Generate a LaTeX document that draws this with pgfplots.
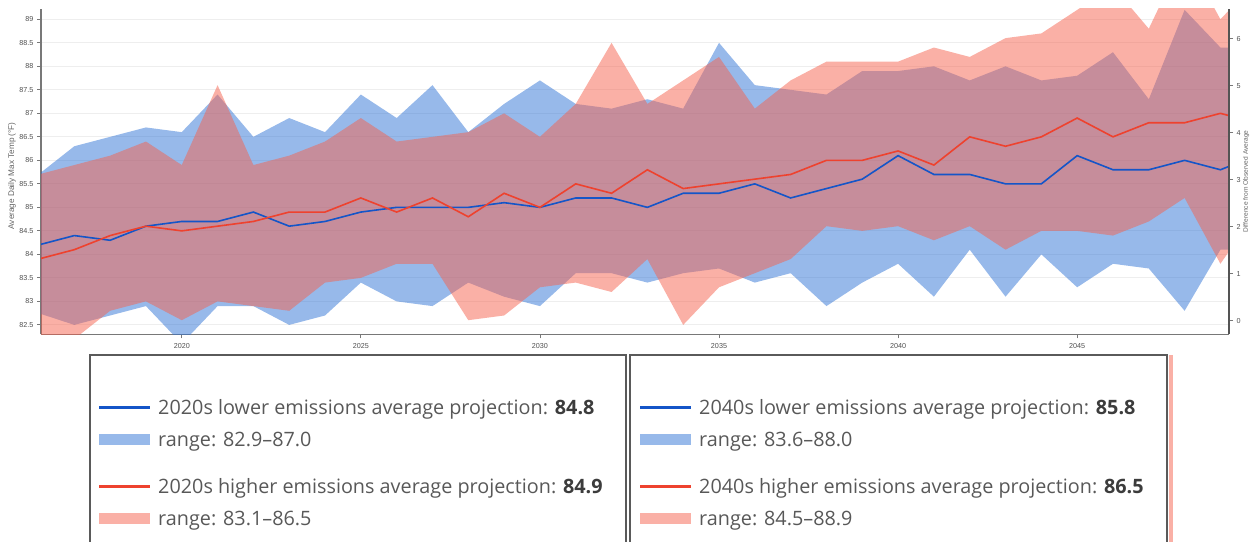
\documentclass[border=0pt]{standalone}
\usepackage{fontspec}
\setmainfont{Liberation Sans}
\newfontfamily\legfont{Open Sans}
\usepackage{pgfplots}
\pgfplotsset{compat=1.18}
\usepackage{pgfplotstable}
\usepgfplotslibrary{fillbetween}

\definecolor{bline}{RGB}{20,85,200}
\definecolor{rline}{RGB}{238,66,46}
\definecolor{bfill}{RGB}{47,115,213}
\definecolor{rfill}{RGB}{245,97,77}
\definecolor{tickgray}{RGB}{80,80,80}
\definecolor{labgray}{RGB}{100,100,100}
\definecolor{gridgray}{RGB}{238,238,238}
\definecolor{axisgray}{RGB}{120,120,120}
\definecolor{boxgray}{RGB}{90,90,90}
\definecolor{legtext}{RGB}{88,88,88}
\definecolor{legbold}{RGB}{60,60,60}
\definecolor{pinkstrip}{RGB}{250,176,166}

\pgfplotstableread{
year bl   bhi  blo   rl   rhi  rlo
2016 84.2 85.7 82.75 83.9 85.7 82.2
2017 84.4 86.3 82.5 84.1 85.9 82.2
2018 84.3 86.5 82.7 84.4 86.1 82.8
2019 84.6 86.7 82.9 84.6 86.4 83.0
2020 84.7 86.6 82.1 84.5 85.9 82.6
2021 84.7 87.4 82.9 84.6 87.6 83.0
2022 84.9 86.5 82.9 84.7 85.9 82.9
2023 84.6 86.9 82.5 84.9 86.1 82.8
2024 84.7 86.6 82.7 84.9 86.4 83.4
2025 84.9 87.4 83.4 85.2 86.9 83.5
2026 85.0 86.9 83.0 84.9 86.4 83.8
2027 85.0 87.6 82.9 85.2 86.5 83.8
2028 85.0 86.6 83.4 84.8 86.6 82.6
2029 85.1 87.2 83.1 85.3 87.0 82.7
2030 85.0 87.7 82.9 85.0 86.5 83.3
2031 85.2 87.2 83.6 85.5 87.2 83.4
2032 85.2 87.1 83.6 85.3 88.5 83.2
2033 85.0 87.3 83.4 85.8 87.2 83.9
2034 85.3 87.1 83.6 85.4 87.7 82.5
2035 85.3 88.5 83.7 85.5 88.2 83.3
2036 85.5 87.6 83.4 85.6 87.1 83.6
2037 85.2 87.5 83.6 85.7 87.7 83.9
2038 85.4 87.4 82.9 86.0 88.1 84.6
2039 85.6 87.9 83.4 86.0 88.1 84.5
2040 86.1 87.9 83.8 86.2 88.1 84.6
2041 85.7 88.0 83.1 85.9 88.4 84.3
2042 85.7 87.7 84.1 86.5 88.2 84.6
2043 85.5 88.0 83.1 86.3 88.6 84.1
2044 85.5 87.7 84.0 86.5 88.7 84.5
2045 86.1 87.8 83.3 86.9 89.2 84.5
2046 85.8 88.3 83.8 86.5 89.7 84.4
2047 85.8 87.3 83.7 86.8 88.8 84.7
2048 86.0 89.2 82.8 86.8 90.4 85.2
2049 85.8 88.4 84.1 87.0 89.0 83.8
2050 86.1 88.4 84.1 86.8 89.8 84.9
}\proj

\begin{document}
\begin{tikzpicture}[x=1bp,y=1bp]
\begin{axis}[
  at={(41bp,207.7bp)}, anchor=south west,
  width=1188bp, height=325.3bp, scale only axis,
  xmin=2016.07, xmax=2049.24, ymin=82.30, ymax=89.22,
  axis x line*=bottom, axis y line*=left,
  axis line style={draw=axisgray, line width=1.2bp},
  xtick={2020,2025,...,2045},
  ytick={82.5,83,...,89},
  /pgf/number format/assume math mode=true,
  /pgf/number format/1000 sep={},
  yticklabel={\pgfmathprintnumber[fixed,precision=1]{\tick}},
  tick align=outside, major tick length=4bp,
  tick style={draw=axisgray, line width=0.8bp},
  ticklabel style={font=\fontsize{7.2bp}{8bp}\selectfont, text=tickgray},
  xticklabel style={yshift=-2bp},
  ymajorgrids, grid style={draw=gridgray, line width=0.8bp},
  ylabel={Average Daily Max Temp (°F)},
  ylabel style={at={(axis description cs:-0.0244,0.487)}, anchor=center,
    font=\fontsize{8.2bp}{9bp}\selectfont, text=labgray},
  clip=true,
]
\addplot[name path=bhi, draw=none] table[x=year, y=bhi] {\proj};
\addplot[name path=blo, draw=none] table[x=year, y=blo] {\proj};
\addplot[fill=bfill, fill opacity=0.5, draw=none] fill between[of=bhi and blo];
\addplot[name path=rhi, draw=none] table[x=year, y=rhi] {\proj};
\addplot[name path=rlo, draw=none] table[x=year, y=rlo] {\proj};
\addplot[fill=rfill, fill opacity=0.5, draw=none] fill between[of=rhi and rlo];
\addplot[bline, line width=1.6bp, mark=none] table[x=year, y=bl] {\proj};
\addplot[rline, line width=1.6bp, mark=none] table[x=year, y=rl] {\proj};
\end{axis}
\begin{axis}[
  at={(41bp,207.7bp)}, anchor=south west,
  width=1188bp, height=325.3bp, scale only axis,
  xmin=2016.07, xmax=2049.24, ymin=-0.285, ymax=6.635,
  hide x axis,
  axis y line*=right,
  axis line style={draw=axisgray!70!black, line width=1.2bp},
  ytick={0,1,...,6},
  /pgf/number format/assume math mode=true,
  tick align=outside, major tick length=4bp,
  tick style={draw=axisgray, line width=0.8bp},
  ticklabel style={font=\fontsize{7.2bp}{8bp}\selectfont, text=tickgray},
  ylabel={Difference from Observed Average},
  ylabel style={at={(axis description cs:1.0145,0.47)}, anchor=center,
    font=\fontsize{6.6bp}{7.5bp}\selectfont, text=labgray},
]
\addplot[draw=none, forget plot] coordinates {(2020,0) (2030,3)};
\end{axis}

% legends
\fill[pinkstrip] (1168.5,0) rectangle (1172.5,187);
\draw[boxgray, line width=1.3bp] (90,-2) -- (90,187) -- (626,187) -- (626,-2);
\draw[boxgray, line width=1.3bp] (630,-2) -- (630,187) -- (1167,187) -- (1167,-2);
\begin{scope}[every node/.style={inner sep=0pt, anchor=base west, text=legtext,
    font=\legfont\fontsize{19.8bp}{24bp}\selectfont}]
  % box 1
  \draw[bline, line width=3bp] (99,134) -- (150,134);
  \fill[bfill, opacity=0.5] (99,96.5) rectangle (150,107.5);
  \draw[rline, line width=3bp] (99,55) -- (150,55);
  \fill[rfill, opacity=0.5] (99,17.5) rectangle (150,28.5);
  \node at (158,127) {2020s lower emissions average projection: \textcolor{legbold}{\bfseries 84.8}};
  \node at (158,95) {range: 82.9–87.0};
  \node at (158,48) {2020s higher emissions average projection: \textcolor{legbold}{\bfseries 84.9}};
  \node at (158,16) {range: 83.1–86.5};
  % box 2
  \draw[bline, line width=3bp] (640,134) -- (691,134);
  \fill[bfill, opacity=0.5] (640,96.5) rectangle (691,107.5);
  \draw[rline, line width=3bp] (640,55) -- (691,55);
  \fill[rfill, opacity=0.5] (640,17.5) rectangle (691,28.5);
  \node at (699,127) {2040s lower emissions average projection: \textcolor{legbold}{\bfseries 85.8}};
  \node at (699,95) {range: 83.6–88.0};
  \node at (699,48) {2040s higher emissions average projection: \textcolor{legbold}{\bfseries 86.5}};
  \node at (699,16) {range: 84.5–88.9};
\end{scope}
\pgfresetboundingbox
\useasboundingbox (0,0) rectangle (1251,542);
\end{tikzpicture}
\end{document}
